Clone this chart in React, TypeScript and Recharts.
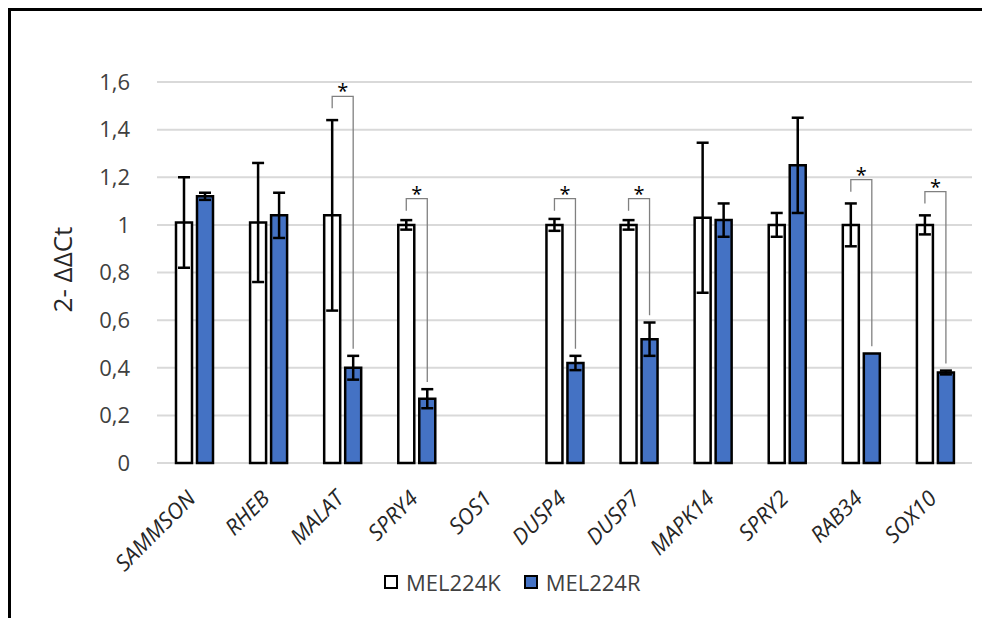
import { BarChart, Bar, XAxis, YAxis, CartesianGrid, ErrorBar, Legend, Rectangle } from 'recharts';

const genes = ['SAMMSON', 'RHEB', 'MALAT', 'SPRY4', 'SOS1', 'DUSP4', 'DUSP7', 'MAPK14', 'SPRY2', 'RAB34', 'SOX10'];
const mel224K = [1.01, 1.01, 1.04, 1.0, null, 1.0, 1.0, 1.03, 1.0, 1.0, 1.0];
const mel224KErr = [0.19, 0.25, 0.4, 0.02, null, 0.025, 0.02, 0.315, 0.05, 0.09, 0.04];
const mel224R = [1.12, 1.04, 0.4, 0.27, null, 0.42, 0.52, 1.02, 1.25, 0.46, 0.38];
const mel224RErr = [0.015, 0.095, 0.05, 0.04, null, 0.03, 0.07, 0.07, 0.2, 0, 0.008];
// height of the significance bracket (null = no bracket)
const sigLevel = [null, null, 1.54, 1.11, null, 1.11, 1.11, null, null, 1.19, 1.14];
const yTicks = [0, 0.2, 0.4, 0.6, 0.8, 1, 1.2, 1.4, 1.6];

const data = genes.map((gene, i) => ({
  gene,
  k: mel224K[i],
  kErr: mel224KErr[i],
  r: mel224R[i],
  rErr: mel224RErr[i],
  sig: sigLevel[i],
}));

const BAR_SIZE = 16;
const BAR_GAP = 5;
const FONT = '"Open Sans", sans-serif';

const KBar = (props: any) => {
  const { x, y, width, height, payload } = props;
  if (payload == null || payload.k == null) return null;
  const bar = <Rectangle {...props} />;
  if (payload.sig == null) return bar;
  const zero = y + height;
  const perUnit = height / payload.k;
  const toY = (v: number) => zero - v * perUnit;
  const x1 = x + width / 2;
  const x2 = x + width + BAR_GAP + width / 2;
  const top = toY(payload.sig);
  const rightEnd = toY(payload.r + (payload.rErr || 0) + 0.03);
  return (
    <g>
      {bar}
      <path d={`M${x1},${top + 12}V${top}H${x2}V${rightEnd}`} fill="none" stroke="#808080" strokeWidth={1.3} />
      <text x={(x1 + x2) / 2} y={top + 2} textAnchor="middle" fontSize={20} fill="#000">*</text>
    </g>
  );
};

const GeneTick = ({ x, y, payload }: any) => (
  <g transform={`translate(${x + 3},${y + 37})`}>
    <text x={0} y={0} textAnchor="end" transform="rotate(-45)" fontSize={22} fontStyle="italic" fill="#262626">
      {payload.value}
    </text>
  </g>
);

const YTitle = ({ viewBox }: any) => {
  const cx = viewBox.x + 54;
  const cy = viewBox.y + viewBox.height / 2 - 3;
  return (
    <text x={cx} y={cy} transform={`rotate(-90 ${cx} ${cy})`} textAnchor="middle" dominantBaseline="central" fontSize={26} fill="#262626">
      2- ΔΔCt
    </text>
  );
};

const LegendBox = ({ payload }: any) => (
  <div style={{ display: 'flex', alignItems: 'center', fontFamily: FONT, fontSize: 22, color: '#404040', lineHeight: '30px' }}>
    {(payload || []).map((p: any, i: number) => (
      <div key={p.value} style={{ display: 'flex', alignItems: 'center', marginLeft: i === 0 ? 0 : 23 }}>
        <span style={{ display: 'inline-block', width: 14, height: 14, boxSizing: 'border-box', border: '2px solid #000', background: p.color }} />
        <span style={{ marginLeft: 8 }}>{p.value}</span>
      </div>
    ))}
  </div>
);

const App = () => {
  return (
    <div
      style={{
        position: 'relative',
        width: 1000,
        height: 640,
        borderLeft: '3px solid #000',
        borderTop: '3px solid #000',
        boxSizing: 'border-box',
        fontFamily: FONT,
        background: '#fff',
      }}
    >
      <style>{'html,body{overflow:hidden}'}</style>
      <div style={{ position: 'absolute', left: -3, top: -3 }}>
        <BarChart
          width={982}
          height={610}
          data={data}
          margin={{ top: 74, right: 18, bottom: 55, left: 0 }}
          barSize={BAR_SIZE}
          barGap={BAR_GAP}
        >
          <CartesianGrid vertical={false} stroke="#d9d9d9" strokeWidth={2} />
          <XAxis dataKey="gene" interval={0} axisLine={false} tickLine={false} tickSize={0} tickMargin={0} height={100} tick={<GeneTick />} />
          <YAxis
            type="number"
            domain={[0, 1.6]}
            ticks={yTicks}
            width={149}
            axisLine={false}
            tickLine={false}
            tickSize={0}
            tickMargin={27}
            tick={{ fontSize: 22, fill: '#404040' }}
            tickFormatter={(v: number) => String(v).replace('.', ',')}
            label={{ content: <YTitle /> }}
          />
          <Legend
            verticalAlign="middle"
            align="center"
            layout="horizontal"
            content={<LegendBox />}
            wrapperStyle={{ left: 376, top: 559, width: 'auto', margin: 0 }}
          />
          <Bar dataKey="k" name="MEL224K" fill="#ffffff" stroke="#000" strokeWidth={2.5} shape={<KBar />} isAnimationActive={false}>
            <ErrorBar dataKey="kErr" width={6} stroke="#000" strokeWidth={2.5} direction="y" />
          </Bar>
          <Bar dataKey="r" name="MEL224R" fill="#4472C4" stroke="#000" strokeWidth={2.5} isAnimationActive={false}>
            <ErrorBar dataKey="rErr" width={6} stroke="#000" strokeWidth={2.5} direction="y" />
          </Bar>
        </BarChart>
      </div>
    </div>
  );
};

export default App;
